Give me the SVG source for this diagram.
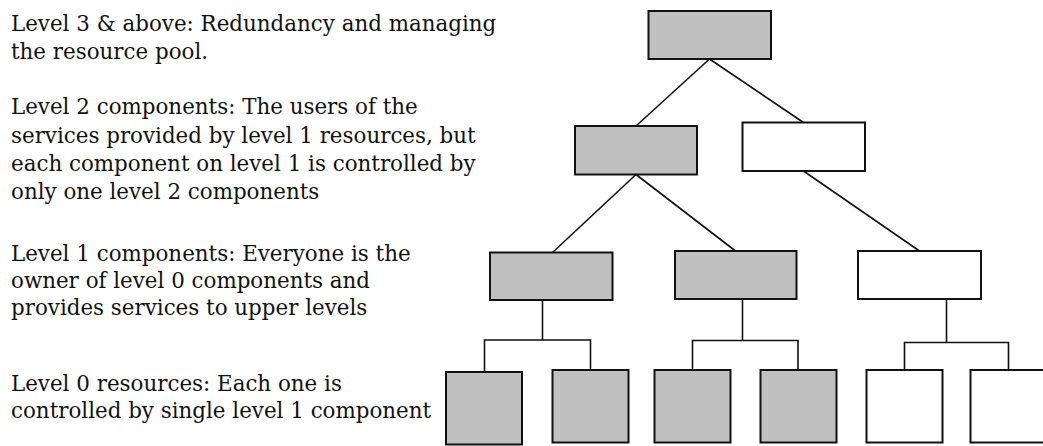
<svg xmlns="http://www.w3.org/2000/svg" width="1043" height="446" viewBox="0 0 1043 446">
  <style>
    .desc { font-family: "DejaVu Serif", "Liberation Serif", serif; font-size: 21.4px; fill: #111; }
    .box { stroke: #111; stroke-width: 2; }
    .on { fill: #c0c0c0; }
    .off { fill: #ffffff; }
    .link { stroke: #111; stroke-width: 1.6; fill: none; }
  </style>
  <rect width="1043" height="446" fill="#ffffff"/>

  <!-- level descriptions -->
  <g id="legend">
    <text class="desc" x="11" y="31">Level 3 &amp; above: Redundancy and managing</text>
    <text class="desc" x="11" y="58.5">the resource pool.</text>
    <text class="desc" x="11" y="114">Level 2 components: The users of the</text>
    <text class="desc" x="11" y="142.5">services provided by level 1 resources, but</text>
    <text class="desc" x="11" y="171">each component on level 1 is controlled by</text>
    <text class="desc" x="11" y="199">only one level 2 components</text>
    <text class="desc" x="11" y="260.5">Level 1 components: Everyone is the</text>
    <text class="desc" x="11" y="288">owner of level 0 components and</text>
    <text class="desc" x="11" y="315">provides services to upper levels</text>
    <text class="desc" x="11" y="390.5">Level 0 resources: Each one is</text>
    <text class="desc" x="11" y="417.5">controlled by single level 1 component</text>
  </g>

  <!-- tree connectors -->
  <g id="connectors">
    <line class="link" x1="709.5" y1="59" x2="636" y2="126"/>
    <line class="link" x1="709.5" y1="59" x2="803.5" y2="122.5"/>
    <line class="link" x1="636" y1="174.5" x2="552.5" y2="252.5"/>
    <line class="link" x1="636" y1="174.5" x2="735.5" y2="251"/>
    <line class="link" x1="803.5" y1="171" x2="919.5" y2="251"/>
    <path class="link" d="M542.5 300 V340 M484.5 371 V340 H590.5 V370"/>
    <path class="link" d="M742.5 299 V340.5 M692.5 370 V340.5 H798 V370"/>
    <path class="link" d="M946.5 299 V342.5 M904.5 370 V342.5 H1008.5 V370"/>
  </g>

  <!-- level 3 -->
  <g id="l3">
    <rect class="box on" x="648.5" y="11" width="122.5" height="48"/>
  </g>

  <!-- level 2 -->
  <g id="l2-a"><rect class="box on" x="575" y="126" width="122" height="48.5"/></g>
  <g id="l2-b"><rect class="box off" x="742.5" y="122.5" width="122.5" height="48.5"/></g>

  <!-- level 1 -->
  <g id="l1-a"><rect class="box on" x="490" y="252.5" width="122.5" height="47.5"/></g>
  <g id="l1-b"><rect class="box on" x="675" y="251" width="121.5" height="48"/></g>
  <g id="l1-c"><rect class="box off" x="858" y="251" width="123" height="48"/></g>

  <!-- level 0 -->
  <g id="l0-a"><rect class="box on" x="446" y="372" width="76" height="72.5"/></g>
  <g id="l0-b"><rect class="box on" x="552.5" y="370" width="76" height="72.5"/></g>
  <g id="l0-c"><rect class="box on" x="654.5" y="370" width="76" height="72.5"/></g>
  <g id="l0-d"><rect class="box on" x="760.5" y="370" width="76" height="72.5"/></g>
  <g id="l0-e"><rect class="box off" x="866.5" y="370" width="76" height="72.5"/></g>
  <g id="l0-f"><rect class="box off" x="970.5" y="370" width="76" height="72.5"/></g>
</svg>
